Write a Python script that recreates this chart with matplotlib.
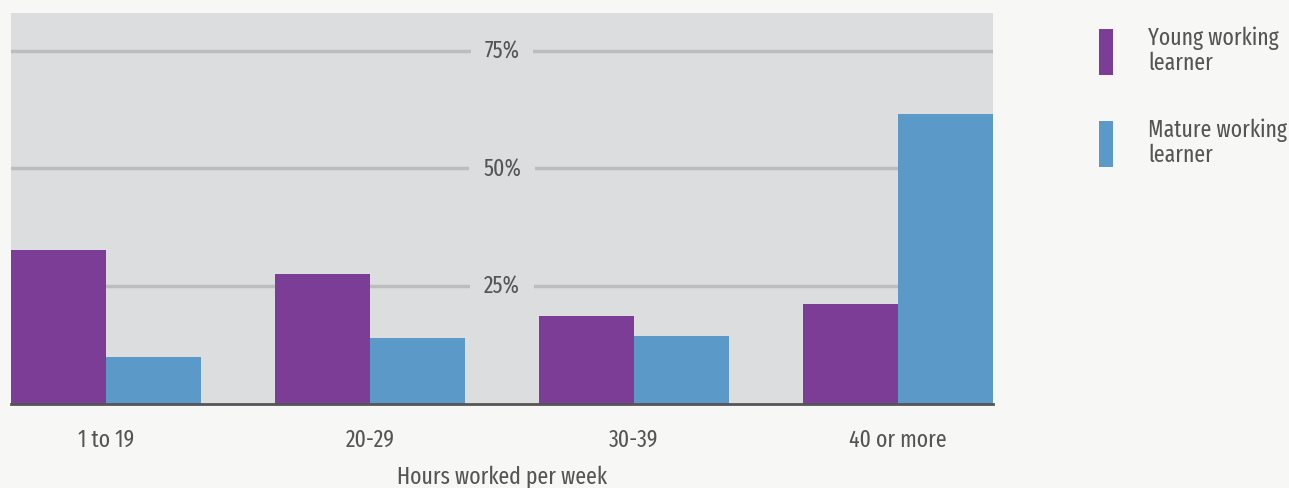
import matplotlib
matplotlib.use("Agg")
import matplotlib.pyplot as plt
from matplotlib.patches import Rectangle
import numpy as np

categories = ["1 to 19", "20-29", "30-39", "40 or more"]
young = [32.7, 27.6, 18.7, 21.2]
mature = [10.0, 14.0, 14.4, 61.5]
series_names = ["Young working\nlearner", "Mature working\nlearner"]
yticks = [25, 50, 75]
ytick_labels = ["25%", "50%", "75%"]
xlabel = "Hours worked per week"

c_young = "#7b3d96"
c_mature = "#5b9ac8"
bg_fig = "#f7f7f5"
bg_ax = "#dcdddf"
grid_c = "#bcbdbf"
text_c = "#555555"

plt.rcParams['font.family'] = ['Fira Sans Extra Condensed', 'Fira Sans Condensed', 'Roboto Condensed',
                               'PT Sans Narrow', 'DejaVu Sans']
FS = 17

W, H = 1289, 489
fig = plt.figure(figsize=(W/100, H/100), dpi=100, facecolor=bg_fig)
ax = fig.add_axes([11/W, (H-405)/H, 982/W, (405-14)/H])
ax.set_facecolor(bg_ax)

x = np.arange(len(categories))
w = 0.36
b1 = ax.bar(x - w/2, young, w, color=c_young, zorder=3)
b2 = ax.bar(x + w/2, mature, w, color=c_mature, zorder=3)

ax.set_xlim(-w, len(categories) - 1 + w)
ax.set_ylim(0, 83)

for yv, lab in zip(yticks, ytick_labels):
    ax.axhline(yv, color=grid_c, lw=2.5, zorder=1)
    ax.text(0.5, yv, lab, transform=ax.get_yaxis_transform(), ha='center', va='center',
            fontsize=FS, color=text_c, zorder=2,
            bbox=dict(facecolor=bg_ax, edgecolor='none', pad=10))

ax.set_yticks([])
ax.set_xticks(x)
ax.set_xticklabels(categories, fontsize=FS, color=text_c)
ax.tick_params(axis='x', length=0, pad=17)
for s in ['top', 'right', 'left']:
    ax.spines[s].set_visible(False)
ax.spines['bottom'].set_color('#555555')
ax.spines['bottom'].set_linewidth(2)
ax.spines['bottom'].set_zorder(4)

ax.set_xlabel(xlabel, fontsize=FS, color=text_c, labelpad=10)

# legend
for i, (name, col) in enumerate(zip(series_names, [c_young, c_mature])):
    top = 30 + i * 92
    fig.add_artist(Rectangle((1099/W, (H - top - 46)/H), 14/W, 46/H,
                             transform=fig.transFigure, facecolor=col, edgecolor='none'))
    fig.text(1148/W, (H - top + 4)/H, name, fontsize=FS, color=text_c,
             ha='left', va='top', linespacing=1.12)

fig.savefig("out.png", dpi=100, facecolor=bg_fig)
